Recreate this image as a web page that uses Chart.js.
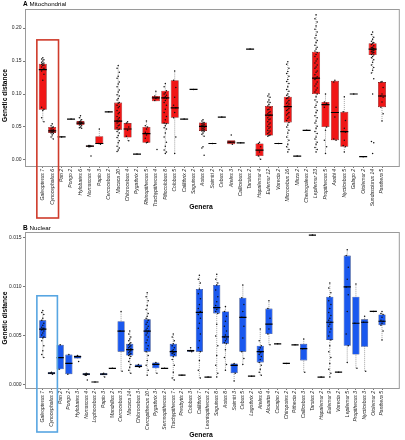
<!DOCTYPE html>
<html><head><meta charset="utf-8">
<script src="https://cdn.jsdelivr.net/npm/chart.js@4.4.0/dist/chart.umd.min.js"></script>
<style>
html,body{margin:0;padding:0;background:#fff;}
#wrap{position:relative;width:405px;height:440px;overflow:hidden;background:#fff;}
canvas{position:absolute;left:0;}
</style></head><body>
<div id="wrap">
<canvas id="c1" width="405" height="222" style="top:0px"></canvas>
<canvas id="c2" width="405" height="218" style="top:222px"></canvas>
</div>
<script>
// ---------- Panel A: Mitochondrial ----------
const mitoLabels = ["Galeopterus 7","Cynocephalus 6","Pan 2","Pongo 2","Hylobates 6","Nomascus 4","Papio 3","Cercocebus 2","Macaca 20","Chlorocebus 4","Pygathrix 2","Rhinopithecus 5","Trachypithecus 4","Piliocolobus 8","Colobus 5","Callithrix 2","Saguinus 2","Aotus 8","Saimiri 2","Cebus 2","Ateles 3","Callicebus 2","Tarsius 2","Hapalemur 4","Eulemur 12","Varecia 2","Microcebus 16","Mirza 2","Cheirogaleus 2","Lepilemur 23","Propithecus 5","Avahi 4","Nycticebus 5","Galago 2","Otolemur 2","Sundasciurus 14","Panthera 5"];
const mitoLow  = [0.058,0.032,0.035,0.062,0.048,0.020,0.024,0.073,0.013,0.029,0.009,0.026,0.089,0.010,0.010,0.062,0.107,0.036,0.025,0.065,0.024,0.026,0.168,0.001,0.036,0.025,0.012,0.006,0.045,0.012,0.010,0.030,0.012,0.100,0.005,0.132,0.059];
const mitoQ1   = [0.076,0.041,0.035,0.062,0.053,0.020,0.0245,0.073,0.046,0.034,0.009,0.026,0.089,0.055,0.064,0.062,0.107,0.044,0.025,0.065,0.024,0.026,0.168,0.006,0.037,0.025,0.057,0.006,0.045,0.100,0.050,0.030,0.020,0.100,0.005,0.159,0.080];
const mitoMed  = [0.137,0.044,0.035,0.062,0.056,0.021,0.025,0.073,0.059,0.047,0.009,0.040,0.094,0.094,0.079,0.062,0.107,0.051,0.025,0.065,0.027,0.026,0.168,0.015,0.068,0.025,0.081,0.006,0.045,0.124,0.084,0.072,0.043,0.100,0.005,0.168,0.097];
const mitoQ3   = [0.146,0.050,0.035,0.062,0.059,0.022,0.036,0.073,0.087,0.056,0.009,0.050,0.097,0.105,0.121,0.062,0.107,0.057,0.025,0.065,0.030,0.026,0.168,0.025,0.082,0.025,0.096,0.006,0.045,0.164,0.088,0.120,0.073,0.100,0.005,0.177,0.118];
const mitoHigh = [0.155,0.055,0.035,0.062,0.067,0.022,0.047,0.073,0.143,0.058,0.009,0.059,0.104,0.116,0.135,0.062,0.107,0.061,0.025,0.065,0.030,0.026,0.168,0.027,0.100,0.025,0.149,0.006,0.045,0.220,0.100,0.121,0.096,0.100,0.005,0.194,0.119];
const mitoPoints = [
 [0.155,0.153,0.152,0.150,0.148,0.147,0.146,0.145,0.144,0.143,0.141,0.139,0.137,0.135,0.130,0.121,0.080,0.077,0.075,0.064,0.058],
 [0.055,0.052,0.050,0.049,0.047,0.046,0.045,0.044,0.043,0.042,0.041,0.040,0.038,0.035,0.032],
 [0.035],
 [0.062],
 [0.067,0.064,0.061,0.059,0.058,0.057,0.056,0.056,0.055,0.054,0.053,0.052,0.050,0.049,0.048],
 [0.022,0.022,0.021,0.020,0.020,0.006],
 [0.047,0.025,0.024],
 [0.073],
 [0.143,0.139,0.133,0.127,0.124,0.118,0.115,0.111,0.106,0.103,0.099,0.097,0.093,0.091,0.087,0.086,0.083,0.081,0.079,0.075,0.072,0.070,0.066,0.064,0.062,0.060,0.059,0.058,0.056,0.053,0.052,0.049,0.047,0.046,0.043,0.041,0.037,0.034,0.029,0.026,0.021,0.018,0.015,0.013],
 [0.058,0.056,0.050,0.045,0.036,0.029],
 [0.009],
 [0.059,0.052,0.050,0.047,0.042,0.040,0.038,0.033,0.027,0.026],
 [0.104,0.097,0.095,0.093,0.090,0.016],
 [0.116,0.111,0.105,0.102,0.100,0.098,0.096,0.094,0.093,0.090,0.087,0.083,0.077,0.072,0.066,0.061,0.056,0.055,0.052,0.049,0.047,0.041,0.035,0.027,0.021,0.015,0.012,0.010],
 [0.135,0.121,0.110,0.095,0.083,0.079,0.072,0.064,0.035,0.010],
 [0.062],
 [0.107],
 [0.061,0.059,0.057,0.056,0.055,0.054,0.053,0.052,0.051,0.051,0.050,0.049,0.048,0.047,0.046,0.045,0.044,0.043,0.041,0.039,0.036,0.020,0.018,0.007],
 [0.025],
 [0.065],
 [0.038,0.027,0.024],
 [0.026],
 [0.168],
 [0.027,0.025,0.020,0.012,0.006,0.001],
 [0.100,0.097,0.095,0.091,0.088,0.087,0.084,0.082,0.080,0.077,0.076,0.073,0.072,0.070,0.068,0.067,0.064,0.062,0.061,0.058,0.056,0.054,0.051,0.050,0.048,0.045,0.044,0.042,0.040,0.038,0.037,0.036],
 [0.025],
 [0.149,0.145,0.139,0.134,0.131,0.127,0.122,0.119,0.116,0.111,0.107,0.104,0.100,0.098,0.096,0.094,0.093,0.090,0.088,0.086,0.085,0.082,0.081,0.078,0.076,0.075,0.072,0.070,0.068,0.065,0.063,0.060,0.057,0.053,0.050,0.045,0.041,0.035,0.030,0.024,0.020,0.016,0.012],
 [0.006],
 [0.045],
 [0.220,0.214,0.209,0.203,0.198,0.194,0.189,0.185,0.181,0.178,0.174,0.171,0.168,0.165,0.163,0.160,0.157,0.153,0.150,0.147,0.144,0.141,0.139,0.135,0.133,0.129,0.126,0.124,0.122,0.118,0.115,0.112,0.109,0.106,0.103,0.100,0.096,0.091,0.088,0.083,0.080,0.075,0.072,0.067,0.064,0.059,0.056,0.051,0.048,0.043,0.040,0.035,0.032,0.027,0.024,0.019,0.016,0.012],
 [0.100,0.088,0.086,0.084,0.080,0.050,0.045,0.030,0.020,0.010],
 [0.121,0.118,0.080,0.065,0.032,0.030],
 [0.096,0.073,0.060,0.048,0.043,0.042,0.030,0.022,0.020,0.012],
 [0.100],
 [0.005],
 [0.194,0.190,0.186,0.183,0.180,0.178,0.177,0.175,0.173,0.171,0.170,0.169,0.168,0.167,0.166,0.165,0.164,0.163,0.162,0.160,0.159,0.157,0.155,0.152,0.148,0.144,0.140,0.136,0.132,0.123,0.100,0.028,0.026,0.010],
 [0.119,0.118,0.110,0.100,0.097,0.095,0.088,0.080,0.070,0.059]
];
const mitoTicks = [0, 0.05, 0.10, 0.15, 0.20];

// ---------- Panel B: Nuclear ----------
const nucLabels = ["Galeopterus 7","Cynocephalus 3","Pan 2","Pongo 2","Hylobates 3","Nomascus 4","Lophocebus 2","Papio 3","Mandrillus 2","Cercocebus 3","Macaca 14","Chlorocebus 3","Cercopithecus 10","Pygathrix 3","Semnopithecus 2","Trachypithecus 7","Presbytis 2","Colobus 3","Callithrix 7","Leontopithecus 2","Saguinus 8","Aotus 8","Saimiri 3","Cebus 5","Lagothrix 2","Ateles 6","Alouatta 4","Cacajao 2","Chiropotes 2","Pithecia 2","Callicebus 3","Tarsius 2","Hapalemur 2","Eulemur 9","Varecia 2","Lepilemur 5","Propithecus 3","Nycticebus 3","Otolemur 2","Panthera 5"];
const nucLow  = [0.0028,0.0011,0.0016,0.0011,0.0027,0.0010,0.0003,0.0008,0.0017,0.0014,0.0012,0.0018,0.0010,0.0012,0.0017,0.0005,0.0010,0.0034,0.0007,0.0008,0.0008,0.0015,0.0004,0.0021,0.0009,0.0010,0.0041,0.0042,0.0022,0.0041,0.0013,0.0153,0.0008,0.0008,0.0013,0.0023,0.0017,0.0014,0.0075,0.0046];
const nucQ1   = [0.0048,0.0011,0.0016,0.0011,0.0027,0.0010,0.0003,0.0010,0.0017,0.0034,0.0030,0.0018,0.0034,0.0017,0.0017,0.0029,0.0010,0.0034,0.0034,0.0008,0.0073,0.0042,0.0012,0.0034,0.0009,0.0023,0.0052,0.0042,0.0022,0.0041,0.0025,0.0153,0.0008,0.0046,0.0013,0.0040,0.0031,0.0039,0.0075,0.0061];
const nucMed  = [0.0057,0.0012,0.0028,0.0022,0.0029,0.0011,0.0003,0.0011,0.0017,0.0055,0.0036,0.0019,0.0055,0.0021,0.0017,0.0034,0.0010,0.0035,0.0074,0.0008,0.0079,0.0049,0.0020,0.0069,0.0009,0.0034,0.0062,0.0042,0.0022,0.0041,0.0037,0.0153,0.0008,0.0064,0.0013,0.0100,0.0063,0.0064,0.0075,0.0065];
const nucQ3   = [0.0066,0.0013,0.0041,0.0031,0.0030,0.0012,0.0003,0.0012,0.0017,0.0065,0.0042,0.0021,0.0067,0.0023,0.0017,0.0042,0.0010,0.0036,0.0098,0.0008,0.0102,0.0075,0.0022,0.0089,0.0009,0.0040,0.0078,0.0042,0.0022,0.0041,0.0042,0.0153,0.0008,0.0090,0.0013,0.0132,0.0090,0.0067,0.0075,0.0072];
const nucHigh = [0.0076,0.0013,0.0041,0.0031,0.0030,0.0012,0.0003,0.0012,0.0017,0.0075,0.0055,0.0021,0.0094,0.0023,0.0017,0.0052,0.0010,0.0038,0.0112,0.0008,0.0113,0.0080,0.0022,0.0102,0.0009,0.0057,0.0086,0.0042,0.0022,0.0041,0.0047,0.0153,0.0008,0.0104,0.0013,0.0138,0.0103,0.0070,0.0075,0.0075];
const nucPoints = [
 [0.0076,0.0074,0.0072,0.0068,0.0066,0.0063,0.0061,0.0059,0.0058,0.0057,0.0056,0.0055,0.0053,0.0051,0.0049,0.0048,0.0045,0.0040,0.0035,0.0031,0.0028],
 [0.0013,0.0012,0.0011],
 [0.0041,0.0016],
 [0.0031,0.0011],
 [0.0030,0.0029,0.0024],
 [0.0012,0.0011,0.0011,0.0010,0.0010,0.0005],
 [0.0003],
 [0.0012,0.0011,0.0008],
 [0.0017],
 [0.0075,0.0055,0.0014],
 [0.0055,0.0052,0.0049,0.0047,0.0045,0.0043,0.0042,0.0041,0.0040,0.0039,0.0038,0.0037,0.0036,0.0036,0.0035,0.0034,0.0033,0.0032,0.0031,0.0030,0.0029,0.0027,0.0024,0.0021,0.0018,0.0015,0.0012],
 [0.0021,0.0019,0.0018],
 [0.0094,0.0090,0.0086,0.0081,0.0077,0.0073,0.0070,0.0068,0.0066,0.0064,0.0062,0.0060,0.0058,0.0056,0.0055,0.0053,0.0051,0.0049,0.0046,0.0043,0.0040,0.0037,0.0034,0.0030,0.0025,0.0020,0.0015,0.0010],
 [0.0023,0.0021,0.0012],
 [0.0017],
 [0.0052,0.0049,0.0045,0.0042,0.0040,0.0038,0.0036,0.0035,0.0034,0.0033,0.0032,0.0031,0.0029,0.0026,0.0020,0.0013,0.0007,0.0005],
 [0.0010],
 [0.0038,0.0035,0.0034],
 [0.0112,0.0108,0.0104,0.0098,0.0093,0.0088,0.0082,0.0078,0.0075,0.0074,0.0072,0.0068,0.0063,0.0058,0.0052,0.0045,0.0038,0.0034,0.0025,0.0015,0.0007],
 [0.0008],
 [0.0113,0.0108,0.0104,0.0102,0.0097,0.0090,0.0085,0.0081,0.0079,0.0077,0.0075,0.0073,0.0062,0.0050,0.0040,0.0030,0.0020,0.0012,0.0008],
 [0.0080,0.0075,0.0070,0.0065,0.0060,0.0055,0.0051,0.0049,0.0047,0.0045,0.0043,0.0042,0.0036,0.0028,0.0021,0.0015],
 [0.0022,0.0020,0.0012,0.0004],
 [0.0102,0.0089,0.0082,0.0075,0.0069,0.0060,0.0048,0.0034,0.0027,0.0021],
 [0.0009],
 [0.0057,0.0045,0.0040,0.0038,0.0036,0.0034,0.0033,0.0031,0.0029,0.0026,0.0023,0.0020,0.0016,0.0013,0.0010],
 [0.0086,0.0078,0.0068,0.0057,0.0052,0.0041],
 [0.0042],
 [0.0022],
 [0.0041],
 [0.0047,0.0037,0.0013],
 [0.0153],
 [0.0008],
 [0.0104,0.0099,0.0094,0.0090,0.0086,0.0082,0.0078,0.0074,0.0071,0.0068,0.0066,0.0064,0.0062,0.0060,0.0057,0.0054,0.0050,0.0046,0.0040,0.0034,0.0028,0.0022,0.0016,0.0012,0.0008],
 [0.0013],
 [0.0138,0.0132,0.0120,0.0108,0.0100,0.0092,0.0075,0.0052,0.0040,0.0023],
 [0.0103,0.0063,0.0017],
 [0.0070,0.0064,0.0014],
 [0.0075],
 [0.0075,0.0073,0.0072,0.0069,0.0066,0.0065,0.0063,0.0061,0.0055,0.0046]
];
const nucTicks = [0, 0.005, 0.010, 0.015];

Chart.defaults.font.family = '"Liberation Sans", Arial, Helvetica, sans-serif';

const deco = {
  id: 'deco',
  afterDraw(chart, args, o) {
    const ctx = chart.ctx, a = chart.chartArea, xs = chart.scales.x, ys = chart.scales.y;
    ctx.save();
    ctx.strokeStyle = '#9a9a9a'; ctx.lineWidth = 1;
    ctx.strokeRect(a.left + 0.5, a.top + 0.5, a.right - a.left - 1, a.bottom - a.top);
    const x1 = xs.getPixelForValue(o.rx[0]), x2 = xs.getPixelForValue(o.rx[1]);
    const y1 = ys.getPixelForValue(o.rTop), y2 = a.bottom + o.rBelow;
    ctx.strokeStyle = o.rColor; ctx.lineWidth = 1.6;
    ctx.strokeRect(x1, y1, x2 - x1, y2 - y1);
    ctx.fillStyle = '#000'; ctx.textBaseline = 'middle'; ctx.textAlign = 'left';
    ctx.font = 'bold 6.5px "Liberation Sans", Arial, sans-serif';
    ctx.fillText(o.letter, 23, o.titleY);
    ctx.font = '6.2px "Liberation Sans", Arial, sans-serif';
    ctx.fillText(o.title, 29.5, o.titleY);
    ctx.font = 'bold 6.8px "Liberation Sans", Arial, sans-serif';
    ctx.textAlign = 'center';
    ctx.fillText('Genera', 201, o.xTitleY);
    ctx.save();
    ctx.translate(5, (a.top + a.bottom) / 2 + 8);
    ctx.rotate(-Math.PI / 2);
    ctx.font = 'bold 6.6px "Liberation Sans", Arial, sans-serif';
    ctx.fillText('Genetic distance', 0, 0);
    ctx.restore();
    ctx.restore();
  }
};

function build(id, o) {
  const idx = o.labels.map((_, i) => i);
  const boxes = idx.map(i => ({x: i, y: [o.q1[i], o.q3[i]]}));
  const medians = idx.map(i => ({x: i, y: o.med[i]}));
  const whisk = [];
  idx.forEach(i => { whisk.push({x: i, y: o.low[i]}, {x: i, y: o.high[i]}, {x: i, y: null}); });
  const jit = [0, -1, 1];
  const pts = [];
  o.points.forEach((arr, i) => arr.forEach((v, k) => pts.push({x: i + jit[k % 3] * 0.12, y: v})));
  return new Chart(document.getElementById(id), {
    type: 'bar',
    data: {
      datasets: [
        {type: 'scatter', data: medians, pointStyle: 'line', pointRadius: o.medR, pointBorderColor: '#000', pointBorderWidth: 1.2, order: 1},
        {type: 'scatter', data: pts, pointRadius: 0.75, pointBackgroundColor: '#111', pointBorderWidth: 0, order: 2},
        {type: 'bar', data: boxes, backgroundColor: o.fill, borderColor: o.edge, borderWidth: 0.6, borderSkipped: false, barPercentage: o.barPct, categoryPercentage: 1, order: 3},
        {type: 'line', data: whisk, borderColor: '#8a8a8a', borderWidth: 0.8, borderDash: [1, 1], pointRadius: 0, spanGaps: false, order: 4}
      ]
    },
    options: {
      responsive: false, animation: false, devicePixelRatio: 1, events: [],
      layout: {padding: {top: o.padTop, right: 1, left: 0, bottom: 0}},
      plugins: {legend: {display: false}, tooltip: {enabled: false}, deco: o.deco},
      scales: {
        x: {
          type: 'linear', min: o.xmin, max: o.xmax, offset: false,
          grid: {display: true, drawOnChartArea: false, drawTicks: true, tickLength: 2, color: '#777', offset: false},
          border: {display: false},
          afterBuildTicks: s => { s.ticks = idx.map(i => ({value: i})); },
          afterFit: s => { s.height = o.xAxisH; },
          ticks: {autoSkip: false, minRotation: 90, maxRotation: 90, padding: 1, color: '#222',
                  font: {size: 5, style: 'italic'}, callback: v => o.labels[Math.round(v)]}
        },
        y: {
          type: 'linear', min: o.ymin, max: o.ymax,
          grid: {display: true, drawOnChartArea: false, drawTicks: true, tickLength: 2, color: '#777'},
          border: {display: false},
          afterBuildTicks: s => { s.ticks = o.yTicks.map(v => ({value: v})); },
          afterFit: s => { s.width = 25; },
          ticks: {padding: 1.5, color: '#222', font: {size: 5}, callback: v => v.toFixed(o.dec)}
        }
      }
    },
    plugins: [deco]
  });
}

build('c1', {
  labels: mitoLabels, low: mitoLow, q1: mitoQ1, med: mitoMed, q3: mitoQ3, high: mitoHigh, points: mitoPoints,
  yTicks: mitoTicks, dec: 2, ymin: -0.0091, ymax: 0.2288, xmin: -1.887, xmax: 37.887,
  fill: '#f01616', edge: '#6a0000', medR: 4, barPct: 0.85, padTop: 9, xAxisH: 56,
  deco: {rx: [-0.63, 1.67], rTop: 0.182, rBelow: 52, rColor: '#cf3b2b', letter: 'A', title: 'Mitochondrial', titleY: 4.5, xTitleY: 207}
});
build('c2', {
  labels: nucLabels, low: nucLow, q1: nucQ1, med: nucMed, q3: nucQ3, high: nucHigh, points: nucPoints,
  yTicks: nucTicks, dec: 3, ymin: -0.00031, ymax: 0.01561, xmin: -2.045, xmax: 41.045,
  fill: '#1a58ee', edge: '#08226e', medR: 3.6, barPct: 0.82, padTop: 10, xAxisH: 52,
  deco: {rx: [-0.68, 1.68], rTop: 0.0091, rBelow: 44, rColor: '#58a6e2', letter: 'B', title: 'Nuclear', titleY: 6.5, xTitleY: 213}
});
</script>
</body></html>
